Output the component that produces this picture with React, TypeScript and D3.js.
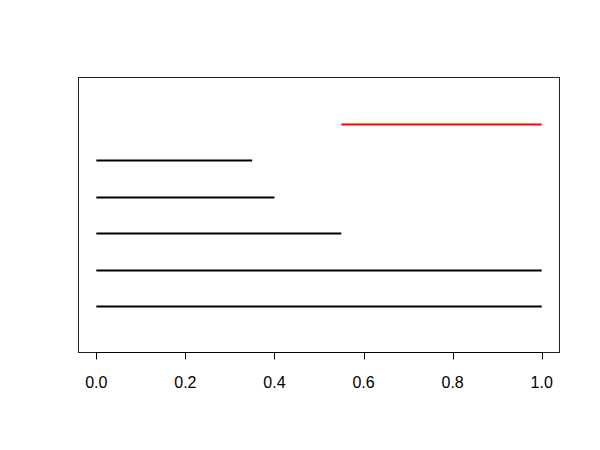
import React from "react";
import * as d3 from "d3";

// segments: start, end, row (y), colour
const segStart = [0, 0, 0, 0, 0, 0.55];
const segEnd = [1, 1, 0.55, 0.4, 0.35, 1];
const segRow = [1, 2, 3, 4, 5, 6];
const segColor = ["black", "black", "black", "black", "black", "red"];
const xTicks = [0, 0.2, 0.4, 0.6, 0.8, 1];

export default function App() {
  const width = 600;
  const height = 450;
  const box = { left: 78.5, right: 559.5, top: 77.5, bottom: 352.5 };

  // R style 4% expansion of axis ranges
  const xScale = d3.scaleLinear().domain([-0.04, 1.04]).range([box.left, box.right]);
  const yScale = d3.scaleLinear().domain([-0.28, 7.28]).range([box.bottom, box.top]);

  return (
    <svg width={width} height={height} style={{ position: "absolute", left: 0, top: 0 }}>
      <rect x={0} y={0} width={width} height={height} fill="white" />
      {segRow.map((r, i) => (
        <line
          key={i}
          x1={xScale(segStart[i])}
          x2={xScale(segEnd[i])}
          y1={Math.round(yScale(r)) + 0.5}
          y2={Math.round(yScale(r)) + 0.5}
          stroke={segColor[i]}
          strokeWidth={2}
        />
      ))}
      <rect
        x={box.left}
        y={box.top}
        width={box.right - box.left}
        height={box.bottom - box.top}
        fill="none"
        stroke="#222"
        strokeWidth={1}
      />
      {/* x axis */}
      <line
        x1={Math.round(xScale(0)) + 0.5}
        x2={Math.round(xScale(1)) + 0.5}
        y1={box.bottom}
        y2={box.bottom}
        stroke="black"
      />
      {xTicks.map((t) => (
        <g key={t}>
          <line
            x1={Math.round(xScale(t)) + 0.5}
            x2={Math.round(xScale(t)) + 0.5}
            y1={box.bottom}
            y2={box.bottom + 7}
            stroke="black"
          />
          <text
            x={xScale(t)}
            y={388}
            textAnchor="middle"
            style={{ fontFamily: "'Liberation Sans', Arial, sans-serif", fontSize: "16px" }}
            fill="black"
          >
            {d3.format(".1f")(t)}
          </text>
        </g>
      ))}
    </svg>
  );
}
